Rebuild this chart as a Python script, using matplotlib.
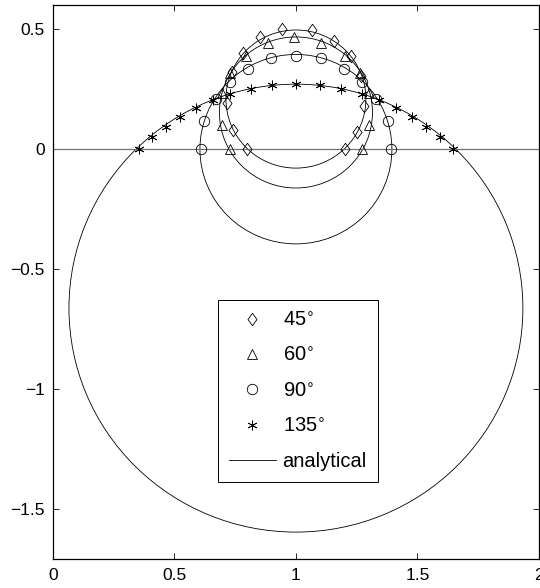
import numpy as np
import matplotlib.pyplot as plt
from matplotlib.patches import Circle
from matplotlib.lines import Line2D

plt.rcParams['font.family'] = ['Liberation Sans', 'DejaVu Sans']
plt.rcParams['mathtext.fontset'] = 'dejavusans'

# analytical circles (all centred at x = 1)
angles = [45, 60, 90, 135]
centre_x = 1.0
centre_y = [0.209, 0.153, 0.0, -0.663]
radius = [0.288, 0.315, 0.395, 0.934]

# numerical points
x45 = [0.798, 0.741, 0.716, 0.737, 0.782, 0.852, 0.942, 1.065, 1.155, 1.225, 1.268, 1.282, 1.252, 1.200]
y45 = [0.0, 0.079, 0.192, 0.321, 0.400, 0.467, 0.500, 0.497, 0.450, 0.388, 0.304, 0.179, 0.071, 0.0]

x60 = [0.728, 0.695, 0.697, 0.730, 0.794, 0.885, 0.992, 1.103, 1.200, 1.262, 1.300, 1.300, 1.270]
y60 = [0.0, 0.100, 0.233, 0.317, 0.388, 0.442, 0.467, 0.442, 0.388, 0.317, 0.233, 0.100, 0.0]

x90 = [0.609, 0.621, 0.671, 0.728, 0.802, 0.897, 1.000, 1.103, 1.198, 1.272, 1.329, 1.379, 1.391]
y90 = [0.0, 0.117, 0.208, 0.279, 0.333, 0.379, 0.388, 0.379, 0.333, 0.279, 0.208, 0.117, 0.0]

x135 = [0.354, 0.407, 0.465, 0.523, 0.588, 0.658, 0.728, 0.815, 0.901, 1.000,
        1.099, 1.185, 1.272, 1.342, 1.412, 1.477, 1.535, 1.593, 1.646]
y135 = [0.0, 0.050, 0.092, 0.133, 0.171, 0.204, 0.229, 0.250, 0.267, 0.271,
        0.267, 0.250, 0.229, 0.204, 0.171, 0.133, 0.092, 0.050, 0.0]

xs = [x45, x60, x90, x135]
ys = [y45, y60, y90, y135]
diamond = [(0, 1), (0.72, 0), (0, -1), (-0.72, 0), (0, 1)]
markers = [diamond, '^', 'o', (6, 2, 0)]
sizes = [9, 7, 7.5, 7]

fig = plt.figure(figsize=(5.4, 5.88), dpi=100)
ax = fig.add_axes([0.098, 0.049, 0.9, 0.942])

ax.axhline(0, color='0.45', lw=0.9)

for cy, r in zip(centre_y, radius):
    ax.add_patch(Circle((centre_x, cy), r, fill=False, ec='k', lw=0.6))

handles = []
labels = []
for x, y, m, s, a in zip(xs, ys, markers, sizes, angles):
    ax.plot(x, y, ls='none', marker=m, mfc='none', mec='k', ms=s, mew=0.6)
    handles.append(Line2D([], [], ls='none', marker=m, mfc='none', mec='k', ms=s, mew=0.6))
    labels.append(str(a) + r'$^{\circ}$')
handles.append(Line2D([], [], color='k', lw=0.6))
labels.append('analytical')

leg = ax.legend(handles, labels, loc='upper left', bbox_to_anchor=(0.34, 0.4675),
                fontsize=14.5, frameon=True, fancybox=False, edgecolor='k',
                framealpha=1, borderpad=0.55, labelspacing=0.8,
                handlelength=2.3, handletextpad=0.35, borderaxespad=0)
leg.get_frame().set_linewidth(0.7)

ax.set_xlim(0, 2)
ax.set_ylim(-1.71, 0.6)
ax.set_xticks([0, 0.5, 1, 1.5, 2])
ax.set_xticklabels(['0', '0.5', '1', '1.5', '2'])
ax.set_yticks([0.5, 0, -0.5, -1, -1.5])
ax.set_yticklabels(['0.5', '0', '\u22120.5', '\u22121', '\u22121.5'])
ax.tick_params(direction='in', top=True, right=True, length=4, width=0.6,
               labelsize=12.5, pad=6)
for sp in ax.spines.values():
    sp.set_linewidth(0.9)

fig.savefig('out.png', dpi=100)
